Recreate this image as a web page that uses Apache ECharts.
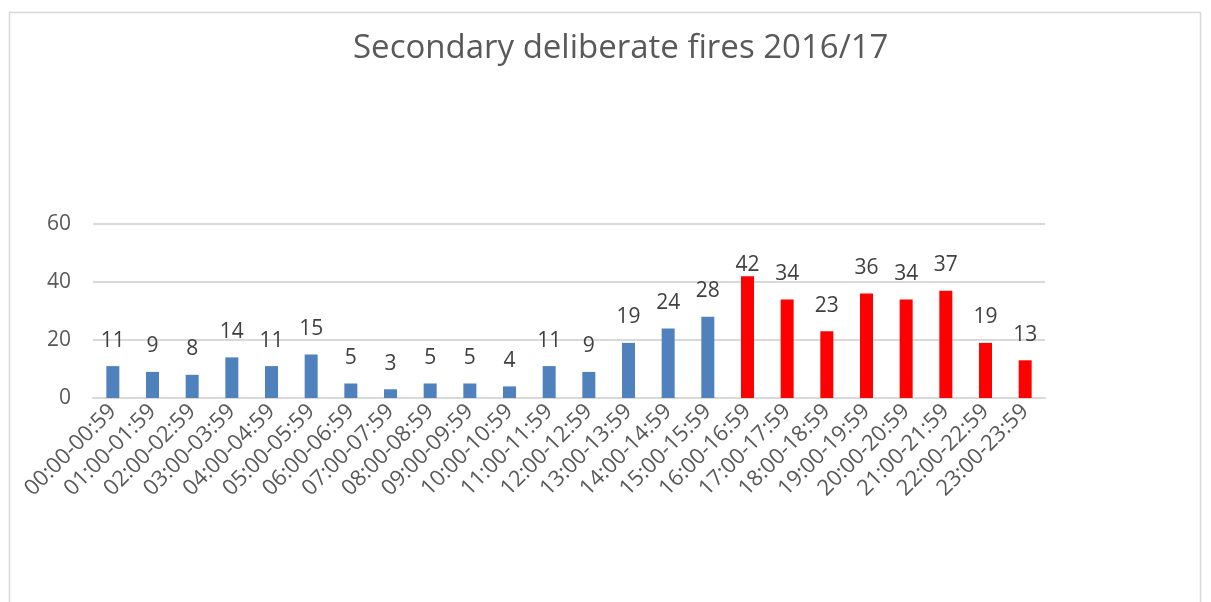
<!DOCTYPE html>
<html>
<head>
<meta charset="utf-8">
<script src="https://cdn.jsdelivr.net/npm/echarts@6/dist/echarts.min.js"></script>
<style>
  html, body { margin: 0; padding: 0; background: #fff; }
  #chart { width: 1211px; height: 602px; }
</style>
</head>
<body>
<div id="chart"></div>
<script>
// hourly bands
var hours = [
  '00:00-00:59', '01:00-01:59', '02:00-02:59', '03:00-03:59', '04:00-04:59', '05:00-05:59',
  '06:00-06:59', '07:00-07:59', '08:00-08:59', '09:00-09:59', '10:00-10:59', '11:00-11:59',
  '12:00-12:59', '13:00-13:59', '14:00-14:59', '15:00-15:59', '16:00-16:59', '17:00-17:59',
  '18:00-18:59', '19:00-19:59', '20:00-20:59', '21:00-21:59', '22:00-22:59', '23:00-23:59'
];
var fires = [11, 9, 8, 14, 11, 15, 5, 3, 5, 5, 4, 11, 9, 19, 24, 28, 42, 34, 23, 36, 34, 37, 19, 13];
var yTicks = [0, 20, 40, 60];
var firstRedHour = 16; // bars from 16:00 on are red

var font = '"Open Sans", "Noto Sans", sans-serif';

var chart = echarts.init(document.getElementById('chart'));

var option = {
  backgroundColor: '#ffffff',
  animation: false,
  title: {
    text: 'Secondary deliberate fires 2016/17',
    left: 348,
    top: 27,
    textStyle: {
      fontFamily: font,
      fontSize: 33,
      fontWeight: 'normal',
      color: '#595959'
    }
  },
  graphic: [{
    type: 'rect',
    shape: { x: 9.5, y: 12.5, width: 1191, height: 620 },
    style: { fill: 'none', stroke: '#d9d9d9', lineWidth: 1.5 },
    silent: true
  }],
  grid: {
    left: 93,
    right: 166,
    top: 224,
    bottom: 204
  },
  xAxis: {
    type: 'category',
    data: hours,
    axisLine: { lineStyle: { color: '#d9d9d9', width: 2 } },
    axisTick: { show: false },
    axisLabel: {
      interval: 0,
      rotate: 45,
      margin: 10,
      fontFamily: font,
      fontSize: 22,
      color: '#595959'
    }
  },
  yAxis: {
    type: 'value',
    min: yTicks[0],
    max: yTicks[yTicks.length - 1],
    interval: 20,
    axisLine: { show: false },
    axisTick: { show: false },
    splitLine: { lineStyle: { color: '#d9d9d9', width: 2 } },
    axisLabel: {
      margin: 22,
      fontFamily: font,
      fontSize: 21,
      color: '#595959'
    }
  },
  series: [{
    type: 'bar',
    barWidth: 13,
    data: fires.map(function (v) {
      // label would leave the plot top for the tallest bar, Excel pulls it down
      if (v === 42) return { value: v, label: { distance: 1 } };
      return v;
    }),
    itemStyle: {
      color: function (p) {
        return p.dataIndex >= firstRedHour ? '#ff0000' : '#4f81bd';
      }
    },
    label: {
      show: true,
      position: 'top',
      distance: 15,
      fontFamily: font,
      fontSize: 21,
      color: '#404040'
    }
  }]
};

chart.setOption(option);
</script>
</body>
</html>
